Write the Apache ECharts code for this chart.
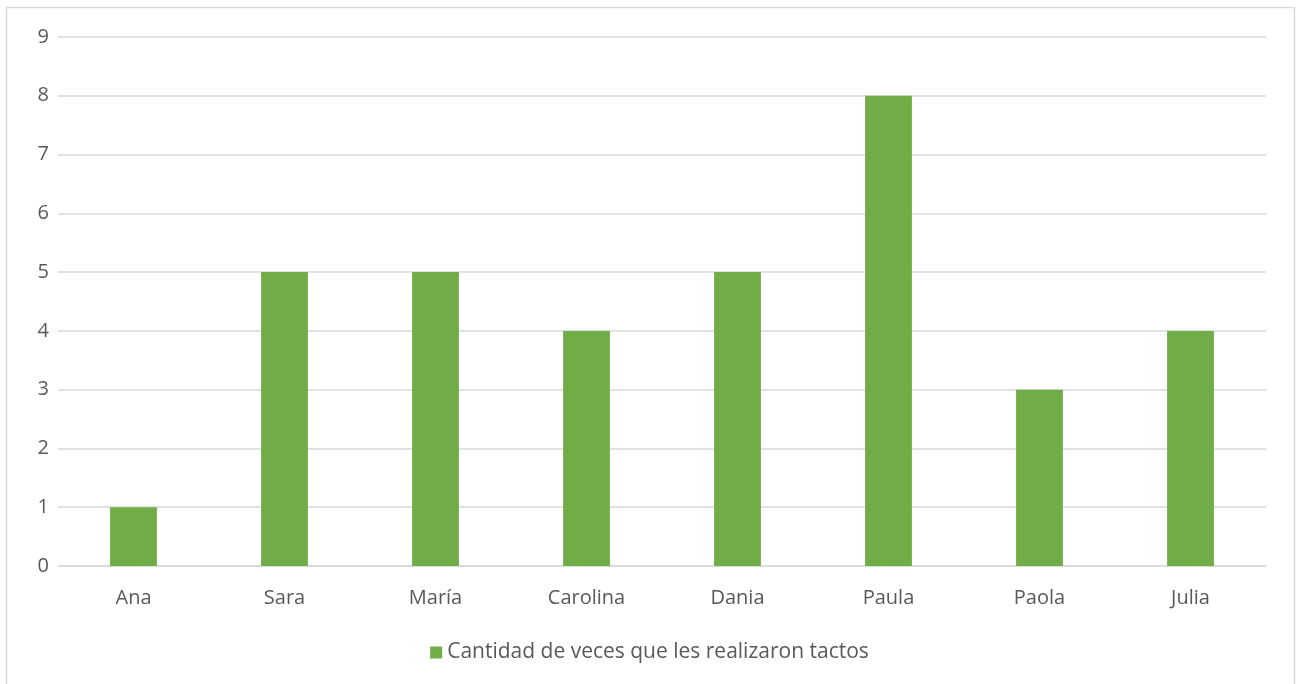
<!DOCTYPE html>
<html>
<head>
<meta charset="utf-8">
<script src="https://cdn.jsdelivr.net/npm/echarts@6/dist/echarts.min.js"></script>
<style>
  html, body { margin: 0; padding: 0; background: #fff; }
  #chart { width: 1299px; height: 684px; }
</style>
</head>
<body>
<div id="chart"></div>
<script>
// Names of the people and how many times each received tactos
const categories = ['Ana', 'Sara', 'María', 'Carolina', 'Dania', 'Paula', 'Paola', 'Julia'];
const seriesName = 'Cantidad de veces que les realizaron tactos';
const values = [1, 5, 5, 4, 5, 8, 3, 4];

const textColor = '#595959';
const fontFamily = '"Open Sans", "Noto Sans", sans-serif';

const chart = echarts.init(document.getElementById('chart'), null, { renderer: 'canvas' });
chart.setOption({
  animation: false,
  backgroundColor: '#ffffff',
  graphic: [{
    type: 'rect',
    shape: { x: 6.5, y: 7.5, width: 1288, height: 700 },
    style: { fill: 'none', stroke: '#d9d9d9', lineWidth: 1.5 },
    silent: true
  }],
  grid: { left: 58, right: 33, top: 37, bottom: 118, containLabel: false },
  legend: {
    bottom: 16,
    left: 'center',
    itemWidth: 12,
    itemHeight: 12,
    itemGap: 8,
    icon: 'rect',
    textStyle: { color: textColor, fontSize: 21, fontFamily: fontFamily },
    data: [seriesName]
  },
  xAxis: {
    type: 'category',
    data: categories,
    axisLine: { show: true, lineStyle: { color: '#d9d9d9', width: 1.5 } },
    axisTick: { show: false },
    axisLabel: { color: textColor, fontSize: 20, fontFamily: fontFamily, margin: 22 }
  },
  yAxis: {
    type: 'value',
    min: 0,
    max: 9,
    interval: 1,
    axisLine: { show: false },
    axisTick: { show: false },
    axisLabel: { color: textColor, fontSize: 20, fontFamily: fontFamily, margin: 9 },
    splitLine: { lineStyle: { color: '#d9d9d9', width: 1.5 } }
  },
  series: [{
    name: seriesName,
    type: 'bar',
    data: values,
    barWidth: '31%',
    itemStyle: { color: '#70ad47' }
  }]
});
</script>
</body>
</html>
